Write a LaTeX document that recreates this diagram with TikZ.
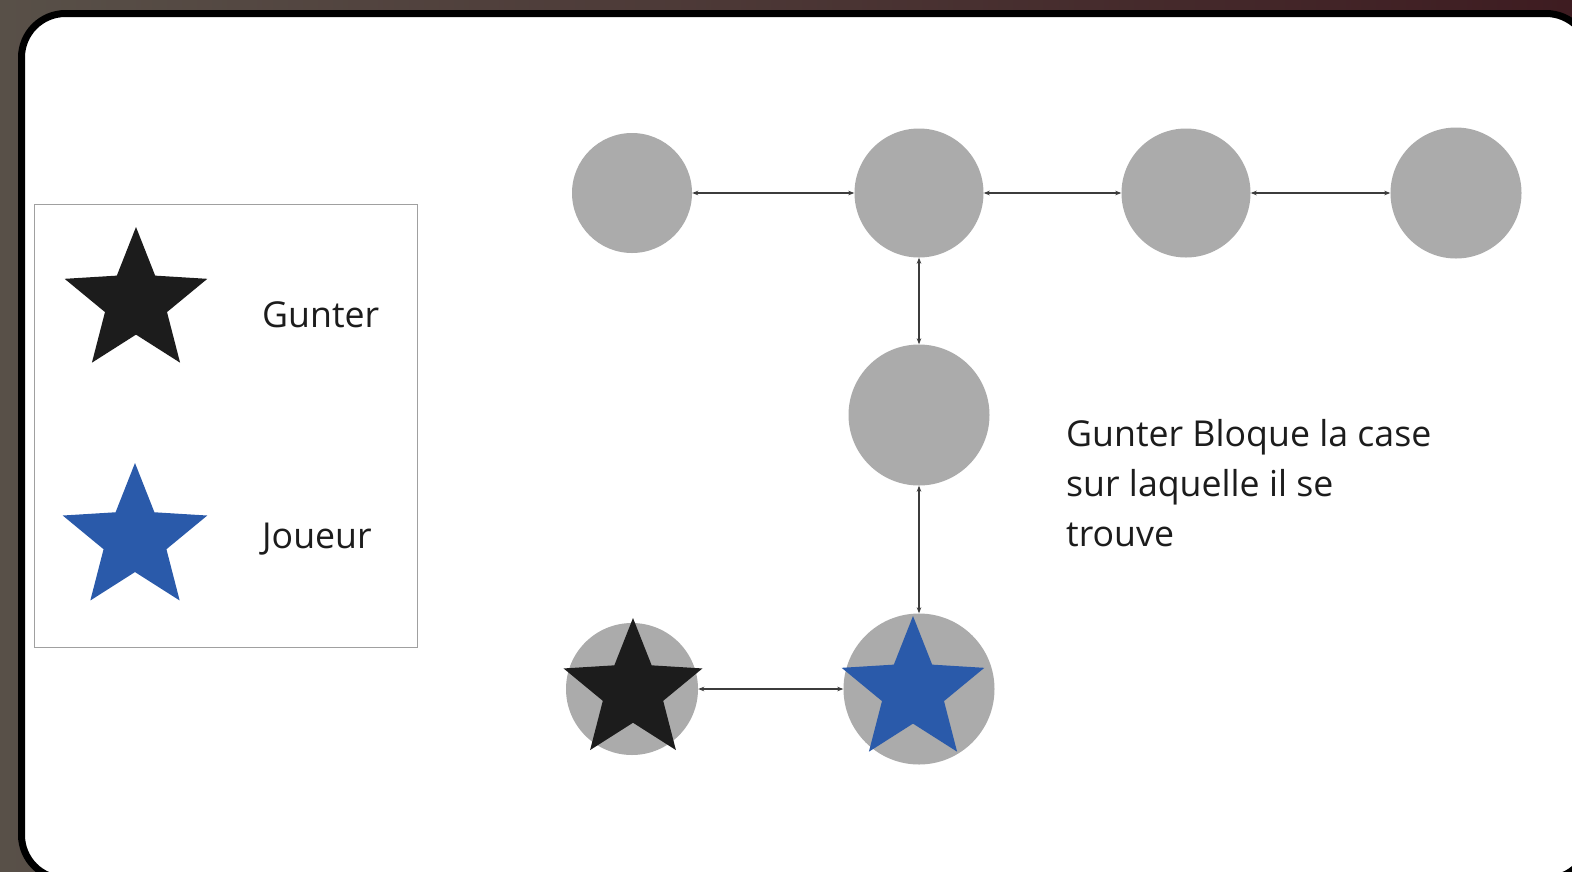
\documentclass[tikz,border=0pt]{standalone}
\usepackage{fontspec}
\setmainfont{Open Sans}
\usetikzlibrary{shapes.geometric,arrows.meta}
\definecolor{bgA}{RGB}{88,80,72}
\definecolor{bgB}{RGB}{62,28,33}
\definecolor{cellgray}{RGB}{171,171,171}
\definecolor{playerblue}{RGB}{42,90,170}
\definecolor{ink}{RGB}{28,28,28}
\definecolor{linkc}{RGB}{60,60,60}
\definecolor{framec}{RGB}{160,160,160}
\begin{document}
\begin{tikzpicture}[x=1pt,y=-1pt,
  cell/.style={circle,fill=cellgray,inner sep=0pt,minimum size=#1},
  token/.style={star,star points=5,star point ratio=2.3,inner sep=0pt,minimum size=#1},
  link/.style={{Stealth[length=6pt,width=4.5pt]}-{Stealth[length=6pt,width=4.5pt]},draw=linkc,line width=1.6pt},
  lbl/.style={font=\fontsize{35.7}{50}\selectfont,text=ink,inner sep=0pt,anchor=base west}]
\useasboundingbox (0,0) rectangle (1572,871);
\begin{scope}
\clip (0,0) rectangle (1572,871);
% backdrop and card
\shade[left color=bgA,right color=bgB] (0,0) rectangle (1572,871);
\draw[line width=7pt,fill=white,rounded corners=44pt] (21.5,13.5) rectangle (1590,879);
\end{scope}

% legend
\draw[framec,line width=1pt] (34,204) rectangle (417,647);
\node[token=150,fill=ink] (legG) at (136,302) {};
\node[token=152,fill=playerblue] (legJ) at (135,539) {};
\node[lbl] (txtG) at (262,327) {Gunter};
\node[lbl] (txtJ) at (262,548) {Joueur};

% board cells
\node[cell=120] (c1) at (632,193) {};
\node[cell=129] (c2) at (919,193) {};
\node[cell=129] (c3) at (1186,193) {};
\node[cell=131] (c4) at (1456,193) {};
\node[cell=141] (c5) at (919,415) {};
\node[cell=132] (c6) at (632,689) {};
\node[cell=151] (c7) at (919,689) {};

% pieces on the board
\node[token=146,fill=ink] (gunter) at (633,691) {};
\node[token=150,fill=playerblue] (joueur) at (913,691) {};

% moves between cells
\draw[link] (c1) -- (c2);
\draw[link] (c2) -- (c3);
\draw[link] (c3) -- (c4);
\draw[link] (c2) -- (c5);
\draw[link] (c5) -- (c7);
\draw[link] (c6) -- (c7);

% note
\node[lbl,align=left,anchor=north west] (note) at (1066,419)
  {Gunter Bloque la case\\sur laquelle il se\\trouve};
\end{tikzpicture}
\end{document}
